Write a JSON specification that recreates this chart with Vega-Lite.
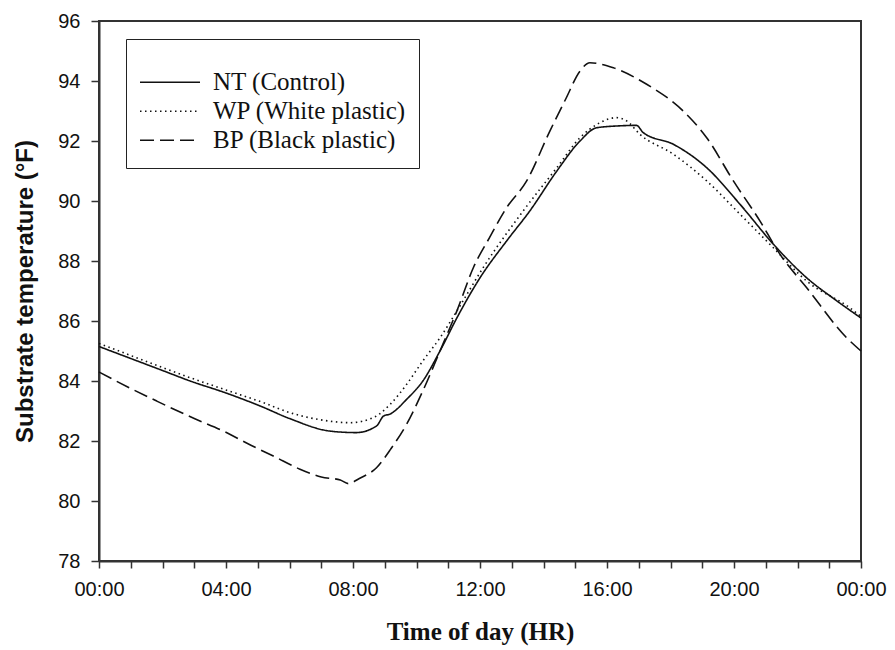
{
  "$schema": "https://vega.github.io/schema/vega-lite/v6.json",
  "autosize": {"type": "none"},
  "padding": {"left": 99, "top": 21, "right": 34, "bottom": 89},
  "width": 762,
  "height": 540,
  "background": "white",
  "config": {
    "view": {"stroke": "#333", "strokeWidth": 2},
    "axis": {"grid": false, "domainColor": "#333", "domainWidth": 2, "tickColor": "#333", "tickWidth": 1.5, "labelColor": "#111", "titleColor": "#111"}
  },
  "data": {
    "values": [
      {"t": 0, "v": 85.15, "s": "NT (Control)"},
      {"t": 1, "v": 84.75, "s": "NT (Control)"},
      {"t": 2, "v": 84.35, "s": "NT (Control)"},
      {"t": 2.87, "v": 84.0, "s": "NT (Control)"},
      {"t": 4, "v": 83.6, "s": "NT (Control)"},
      {"t": 5.07, "v": 83.17, "s": "NT (Control)"},
      {"t": 6, "v": 82.75, "s": "NT (Control)"},
      {"t": 7.28, "v": 82.33, "s": "NT (Control)"},
      {"t": 8.1, "v": 82.28, "s": "NT (Control)"},
      {"t": 8.74, "v": 82.5, "s": "NT (Control)"},
      {"t": 8.96, "v": 82.83, "s": "NT (Control)"},
      {"t": 9.17, "v": 82.9, "s": "NT (Control)"},
      {"t": 9.7, "v": 83.4, "s": "NT (Control)"},
      {"t": 10.2, "v": 84.0, "s": "NT (Control)"},
      {"t": 10.74, "v": 85.0, "s": "NT (Control)"},
      {"t": 11.27, "v": 86.1, "s": "NT (Control)"},
      {"t": 12.0, "v": 87.44, "s": "NT (Control)"},
      {"t": 12.84, "v": 88.67, "s": "NT (Control)"},
      {"t": 13.57, "v": 89.67, "s": "NT (Control)"},
      {"t": 14.42, "v": 91.0, "s": "NT (Control)"},
      {"t": 15.15, "v": 92.0, "s": "NT (Control)"},
      {"t": 15.67, "v": 92.44, "s": "NT (Control)"},
      {"t": 16.3, "v": 92.5, "s": "NT (Control)"},
      {"t": 16.93, "v": 92.52, "s": "NT (Control)"},
      {"t": 17.14, "v": 92.28, "s": "NT (Control)"},
      {"t": 18.09, "v": 91.89, "s": "NT (Control)"},
      {"t": 19.14, "v": 91.11, "s": "NT (Control)"},
      {"t": 20.19, "v": 89.89, "s": "NT (Control)"},
      {"t": 21.24, "v": 88.56, "s": "NT (Control)"},
      {"t": 22.29, "v": 87.44, "s": "NT (Control)"},
      {"t": 23.2, "v": 86.7, "s": "NT (Control)"},
      {"t": 24, "v": 86.1, "s": "NT (Control)"},

      {"t": 0, "v": 85.25, "s": "WP (White plastic)"},
      {"t": 1, "v": 84.85, "s": "WP (White plastic)"},
      {"t": 2, "v": 84.45, "s": "WP (White plastic)"},
      {"t": 2.87, "v": 84.11, "s": "WP (White plastic)"},
      {"t": 4, "v": 83.7, "s": "WP (White plastic)"},
      {"t": 5.17, "v": 83.28, "s": "WP (White plastic)"},
      {"t": 6, "v": 82.95, "s": "WP (White plastic)"},
      {"t": 7.07, "v": 82.69, "s": "WP (White plastic)"},
      {"t": 7.9, "v": 82.61, "s": "WP (White plastic)"},
      {"t": 8.64, "v": 82.78, "s": "WP (White plastic)"},
      {"t": 9.17, "v": 83.22, "s": "WP (White plastic)"},
      {"t": 9.69, "v": 83.89, "s": "WP (White plastic)"},
      {"t": 10.2, "v": 84.67, "s": "WP (White plastic)"},
      {"t": 10.74, "v": 85.44, "s": "WP (White plastic)"},
      {"t": 11.27, "v": 86.33, "s": "WP (White plastic)"},
      {"t": 12.1, "v": 87.78, "s": "WP (White plastic)"},
      {"t": 13.36, "v": 89.67, "s": "WP (White plastic)"},
      {"t": 14.42, "v": 91.11, "s": "WP (White plastic)"},
      {"t": 15.15, "v": 92.11, "s": "WP (White plastic)"},
      {"t": 15.78, "v": 92.61, "s": "WP (White plastic)"},
      {"t": 16.3, "v": 92.78, "s": "WP (White plastic)"},
      {"t": 16.62, "v": 92.67, "s": "WP (White plastic)"},
      {"t": 17.04, "v": 92.22, "s": "WP (White plastic)"},
      {"t": 18.09, "v": 91.56, "s": "WP (White plastic)"},
      {"t": 19.14, "v": 90.67, "s": "WP (White plastic)"},
      {"t": 20.19, "v": 89.56, "s": "WP (White plastic)"},
      {"t": 21.24, "v": 88.44, "s": "WP (White plastic)"},
      {"t": 22.29, "v": 87.33, "s": "WP (White plastic)"},
      {"t": 23.65, "v": 86.44, "s": "WP (White plastic)"},
      {"t": 24, "v": 86.15, "s": "WP (White plastic)"},

      {"t": 0, "v": 84.3, "s": "BP (Black plastic)"},
      {"t": 1, "v": 83.75, "s": "BP (Black plastic)"},
      {"t": 1.82, "v": 83.33, "s": "BP (Black plastic)"},
      {"t": 3, "v": 82.75, "s": "BP (Black plastic)"},
      {"t": 3.92, "v": 82.33, "s": "BP (Black plastic)"},
      {"t": 4.8, "v": 81.85, "s": "BP (Black plastic)"},
      {"t": 5.49, "v": 81.5, "s": "BP (Black plastic)"},
      {"t": 6.33, "v": 81.06, "s": "BP (Black plastic)"},
      {"t": 7.0, "v": 80.8, "s": "BP (Black plastic)"},
      {"t": 7.6, "v": 80.7, "s": "BP (Black plastic)"},
      {"t": 7.85, "v": 80.58, "s": "BP (Black plastic)"},
      {"t": 8.2, "v": 80.75, "s": "BP (Black plastic)"},
      {"t": 8.74, "v": 81.11, "s": "BP (Black plastic)"},
      {"t": 9.2, "v": 81.75, "s": "BP (Black plastic)"},
      {"t": 9.69, "v": 82.56, "s": "BP (Black plastic)"},
      {"t": 10.2, "v": 83.67, "s": "BP (Black plastic)"},
      {"t": 10.74, "v": 85.0, "s": "BP (Black plastic)"},
      {"t": 11.27, "v": 86.33, "s": "BP (Black plastic)"},
      {"t": 11.8, "v": 87.8, "s": "BP (Black plastic)"},
      {"t": 12.3, "v": 88.78, "s": "BP (Black plastic)"},
      {"t": 12.84, "v": 89.78, "s": "BP (Black plastic)"},
      {"t": 13.47, "v": 90.67, "s": "BP (Black plastic)"},
      {"t": 14.2, "v": 92.33, "s": "BP (Black plastic)"},
      {"t": 14.7, "v": 93.4, "s": "BP (Black plastic)"},
      {"t": 15.15, "v": 94.33, "s": "BP (Black plastic)"},
      {"t": 15.46, "v": 94.61, "s": "BP (Black plastic)"},
      {"t": 16.2, "v": 94.44, "s": "BP (Black plastic)"},
      {"t": 17.25, "v": 93.89, "s": "BP (Black plastic)"},
      {"t": 18.4, "v": 93.0, "s": "BP (Black plastic)"},
      {"t": 19.14, "v": 92.11, "s": "BP (Black plastic)"},
      {"t": 19.98, "v": 90.67, "s": "BP (Black plastic)"},
      {"t": 20.82, "v": 89.33, "s": "BP (Black plastic)"},
      {"t": 21.45, "v": 88.22, "s": "BP (Black plastic)"},
      {"t": 22.29, "v": 87.11, "s": "BP (Black plastic)"},
      {"t": 23.55, "v": 85.44, "s": "BP (Black plastic)"},
      {"t": 24, "v": 85.0, "s": "BP (Black plastic)"}
    ]
  },
  "mark": {"type": "line", "color": "#111", "strokeWidth": 1.6, "interpolate": "monotone"},
  "encoding": {
    "x": {
      "field": "t", "type": "quantitative",
      "scale": {"domain": [0, 24], "nice": false, "zero": false},
      "axis": {
        "title": "Time of day (HR)",
        "titleFont": "Liberation Serif", "titleFontSize": 25, "titleFontWeight": "bold",
        "titlePadding": 20,
        "labelFont": "Liberation Sans", "labelFontSize": 20, "labelPadding": 11,
        "values": [0,1,2,3,4,5,6,7,8,9,10,11,12,13,14,15,16,17,18,19,20,21,22,23,24],
        "labelExpr": "datum.value % 4 === 0 ? ((datum.value % 24) < 10 ? '0' : '') + (datum.value % 24) + ':00' : ''",
        "labelOverlap": false,
        "labelBound": false,
        "labelFlush": false,
        "tickSize": 7
      }
    },
    "y": {
      "field": "v", "type": "quantitative",
      "scale": {"domain": [78, 96], "nice": false, "zero": false},
      "axis": {
        "title": "Substrate temperature (°F)",
        "titleFont": "Liberation Sans", "titleFontSize": 24, "titleFontWeight": "bold",
        "titlePadding": 20,
        "labelFont": "Liberation Sans", "labelFontSize": 20, "labelPadding": 11,
        "values": [78, 80, 82, 84, 86, 88, 90, 92, 94, 96],
        "labelFlush": false,
        "tickSize": 8
      }
    },
    "strokeDash": {
      "field": "s", "type": "nominal",
      "scale": {
        "domain": ["NT (Control)", "WP (White plastic)", "BP (Black plastic)"],
        "range": [[1, 0], [1.5, 3.5], [14, 6]]
      },
      "legend": {
        "title": " ", "titleFontSize": 10, "titlePadding": 6,
        "orient": "none", "legendX": 27, "legendY": 18,
        "direction": "vertical",
        "strokeColor": "#222", "padding": 13,
        "labelFont": "Liberation Serif", "labelFontSize": 25, "labelColor": "#111", "labelLimit": 400,
        "symbolType": "stroke", "symbolSize": 3600, "symbolStrokeWidth": 1.6,
        "symbolStrokeColor": "#111", "symbolOffset": 0,
        "labelOffset": 12, "rowPadding": 0, "clipHeight": 28.5
      }
    },
    "detail": {"field": "s"}
  }
}
